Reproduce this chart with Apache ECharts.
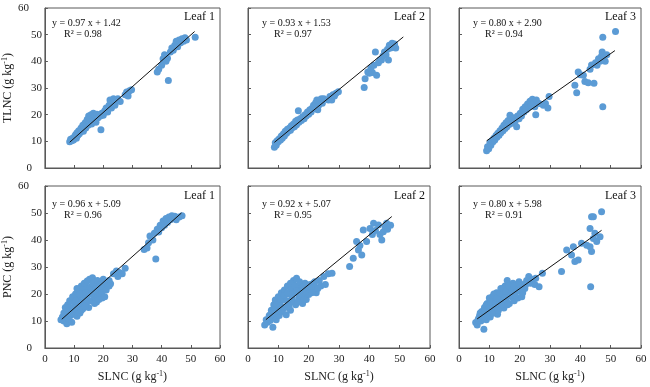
<!DOCTYPE html>
<html><head><meta charset="utf-8">
<script src="https://cdn.jsdelivr.net/npm/echarts/dist/echarts.min.js"></script>
<style>html,body{margin:0;padding:0;background:#fff}#c{width:650px;height:387px}</style>
</head><body><div id="c"></div><script>
// ---- data ----
const leafNames = ['Leaf 1', 'Leaf 2', 'Leaf 3'];
const rowNames = ['TLNC', 'PNC'];
const xName = 'SLNC';
const tickValues = [0, 10, 20, 30, 40, 50, 60];
const slopes = [0.97, 0.93, 0.80, 0.96, 0.92, 0.80];
const intercepts = [1.42, 1.53, 2.90, 5.09, 5.07, 5.98];
const r2 = [0.98, 0.97, 0.94, 0.96, 0.95, 0.91];
const trendRange = [[8.5, 51.3], [8.7, 51.2], [9.1, 51.4], [5.8, 46.8], [5.9, 47.4], [6.0, 47.0]];

const tlncLeaf1 = [[8.5,9.8],[8.8,10.8],[9.2,10.2],[9.5,11.2],[9.8,10.5],[10.2,11.8],[10.5,12.5],[10.8,11.2],[11,13.2],[11.3,12.3],[11.6,14],[11.8,12.8],[12.2,13.5],[12.4,15],[12.7,14.2],[13,16],[13.2,13.8],[13.5,15.5],[13.8,17],[14,15],[14.3,16.5],[14.5,18.2],[14.8,16],[15,19.5],[15.2,17.2],[15.5,18.5],[15.8,20],[16,16.5],[16.3,19],[16.6,20.5],[16.9,18],[17.2,19.5],[17.5,17.2],[17.8,20.2],[18.2,18.8],[19.2,14.3],[19,19.5],[19.5,20.5],[20,19.8],[20.5,21.5],[21,22.5],[21.5,21],[22,23.5],[22.3,25.5],[22.8,22.5],[23.2,24.5],[23.5,26],[24,23.5],[24.5,25.5],[25,26],[25.8,24.9],[27.5,27.5],[28,28.5],[28.5,27],[29,29],[29.7,29.3],[38.5,36],[39,37],[40,38.5],[40.5,41],[41,42.5],[41.5,40],[42,41.2],[42.3,32.8],[43,43.5],[43.5,45],[44,44.2],[44.5,46],[45,47.5],[45.5,45.5],[46,48],[46.5,47],[47,48.5],[47.5,47.5],[48,48.8],[48.5,48],[51.5,49]];
const tlncLeaf2 = [[8.7,7.8],[9,9.5],[9.3,8.5],[9.6,10.2],[10,9.8],[10.3,11],[10.7,10.5],[11,12],[11.3,11.2],[11.7,12.8],[12,12],[12.3,13.8],[12.7,13],[13,14.5],[13.3,13.8],[13.7,15],[14,14.2],[14.3,15.8],[14.7,15.2],[15,16.5],[15.3,15.5],[15.7,17.5],[16,16.2],[16.3,18],[16.6,21.5],[16.8,17.2],[17.2,18.5],[17.6,17.8],[18,19.2],[18.5,18.5],[18.8,20],[19.2,19.5],[19.6,21],[20,20.2],[20.4,21.8],[20.8,21],[21.2,22.5],[21.6,23.5],[22,22.2],[22.3,24.5],[22.7,25.5],[23,21.8],[23.3,23.5],[23.7,25.5],[24.2,26],[24.5,24.3],[25,26],[26.5,25.5],[27,26.8],[27.6,25.5],[28,27.5],[28.5,27],[29,28],[29.8,28.6],[38.3,30.2],[38.6,33.5],[39.5,36],[40,35.5],[40.5,37.5],[41,35.8],[41.5,38.5],[42,43.5],[42.4,34.8],[43,39.5],[43.5,40.5],[44,40.5],[44.5,42],[45,43.5],[45.5,42.5],[46,44.5],[46.3,40.5],[46.6,46],[47,45],[47.5,46.8],[48,45.5],[48.3,46.5],[48.7,45]];
const tlncLeaf3 = [[9.1,6.5],[9.4,8],[9.8,7.2],[10.2,9.5],[10.5,8.5],[10.8,10.2],[11.2,9.8],[11.5,11.2],[11.8,10.5],[12.2,12.2],[12.5,11.5],[12.8,13],[13.2,12.3],[13.5,14],[13.8,13.2],[14.2,15],[14.5,14],[14.8,16],[15.2,14.8],[15.5,17],[15.8,15.5],[16.2,17.8],[16.5,16.3],[16.8,19.8],[17.2,18],[17.6,16.8],[18,18.8],[18.5,17.5],[19,15.5],[19.3,19.5],[19.8,18.5],[20.2,20.5],[20.6,19.5],[21,22],[21.4,21],[21.8,23],[22.2,21.8],[22.6,24],[23,22.8],[23.4,25],[23.8,23.5],[24.2,25.8],[24.6,24],[25,23],[25.3,20],[25.5,25.5],[26.4,24.2],[27.8,23.5],[28.5,24.2],[29.3,22.5],[29.7,26.8],[38.2,31],[38.8,28.2],[39.3,36],[40,35],[41,34.8],[41.5,32.4],[42.6,32],[43.2,37],[43.7,38.6],[44.5,31.8],[45,39.5],[45.5,38.5],[46,41],[46.5,40],[47,42],[47.2,43.5],[47.4,49],[47.4,23],[47.8,41.5],[48.2,40],[48.7,42.5],[51.6,51.2]];
const pncLeaf1 = [[5.5,10.5],[6,11.5],[6.5,10],[7,12.5],[7.3,14],[7.5,9],[7.8,16],[8,11],[8.2,13],[8.5,15],[8.8,12],[9,17.5],[9.2,9.5],[9.5,14],[9.8,18.5],[10,12.5],[10.2,16],[10.5,20],[10.8,14.5],[11,11.8],[11.2,18],[11.5,21.5],[11.8,15.5],[12,13],[12.2,19.5],[12.5,23],[12.8,17],[13,14.5],[13.3,21],[13.6,18.5],[14,16],[14.3,22.5],[14.6,19.5],[15,15],[15.3,25.5],[15.6,20.5],[16,17.5],[16.3,26],[16.6,22],[17,19],[17.3,24],[17.7,17],[18,21],[18.4,23],[18.8,19.5],[19.2,21.5],[19.6,18.5],[20,25.5],[20.5,22.5],[21,24],[21.5,23],[22,25],[22.5,23.8],[23.5,27.5],[24.5,28.5],[25,26.5],[25.5,28],[26.5,27.5],[27.5,29.5],[34,36.5],[35,37],[35.5,39],[36,41.5],[37,40],[37.5,42.5],[38,33],[38.5,44],[39,43],[39.5,45.5],[40,44.5],[40.5,47],[41,45.5],[41.5,48],[42,46.5],[42.5,48.5],[43,47.5],[43.5,49],[44,48],[44.5,48.8],[45,47.5],[46,48.5],[47,49],
  [6.5,13],[7,15],[7.8,13.5],[8.5,17.5],[9,13],[9.5,19],[10,15],[10.5,17.5],[11,22],[11.5,16.5],[12,20],[12.5,14],[13,22.5],[13.5,24],[13.8,15.5],[14,20.5],[14.5,24.8],[15,17.5],[15.5,22.5],[16,20],[16.5,24],[17,16.5],[17.5,22],[18,25],[18.5,18],[19,23.5],[19.5,20.5],[20.5,19],[21,21.5],[22,23]];
const pncLeaf2 = [[5.5,8.5],[6,10.5],[6.5,9.5],[7,12],[7.3,10.2],[7.7,14],[8,11.5],[8.2,7.7],[8.5,16],[8.8,12.8],[9,17.8],[9.3,10.5],[9.6,14.5],[10,19],[10.3,12],[10.6,16.5],[11,20.5],[11.3,13.5],[11.6,18],[12,21.5],[12.3,15],[12.6,12.3],[13,23],[13.3,17],[13.6,20],[14,14],[14.3,22],[14.6,18.5],[15,25],[15.4,20.5],[15.7,16],[16,25.8],[16.4,22.5],[16.8,18.5],[17.2,21],[17.6,23.5],[18,16.5],[18.4,20],[18.8,24],[19.2,18],[19.6,22],[20,19.8],[20.5,23.5],[21,21.5],[21.5,24],[22,22.8],[22.5,20.5],[23.5,25],[24,23],[25,26.5],[25.5,23.5],[26.5,27.5],[27.7,27.7],[33.5,30.2],[34.7,33.2],[35.8,39.4],[36.4,36.3],[36.9,38],[37.5,34.4],[38,43.7],[39.1,39.4],[40.2,44.3],[41,42],[41.4,46.2],[42,43.5],[43,45.6],[43.5,42],[44.1,40],[44.6,43.1],[45.2,44.9],[45.7,46.2],[46,44],[47,45.5],
  [6.8,10.8],[7.5,12.5],[8.3,13.5],[8.8,15],[9.5,16],[10,13.5],[10.8,18],[11.5,15],[12,19.5],[12.8,17.5],[13,20.5],[13.5,15.5],[14,24],[14.5,20],[15,17],[15.5,23],[16,21],[16.5,17],[17,24.5],[17.5,19.5],[18,22.5],[18.5,18],[19,21],[20,22.5],[21,20.5],[22,24.5],[23,22]];
const pncLeaf3 = [[5.5,9.4],[6,8.5],[6.3,10.5],[6.8,12],[7.2,10],[7.5,13.5],[7.8,11],[8.2,6.9],[8.4,15],[8.7,12.5],[9,10.5],[9.3,16.5],[9.6,13.5],[10,18.5],[10.3,11.5],[10.6,15.5],[11,19],[11.3,13],[11.6,17],[12,14.5],[12.4,20.5],[12.7,12.5],[13,18],[13.4,15.5],[13.8,22],[14.1,17],[14.5,19.5],[14.8,14.8],[15.2,23],[15.5,18],[15.9,25],[16.2,20.5],[16.6,16.5],[17,22],[17.4,19],[17.8,24],[18.2,17.5],[18.6,21],[19,23],[19.4,18.5],[19.8,24.5],[20.2,21],[20.7,19],[21.2,23.5],[21.7,22],[22.3,25],[23,26.5],[23.6,24],[24.2,25.5],[25,23.5],[25.3,25.8],[26.4,22.7],[27.5,27.7],[33.8,28.3],[35.5,36.3],[37.1,34.4],[37.7,37.5],[38.2,32],[39.3,32.6],[40.4,38.8],[42.1,38.1],[43.2,37.5],[43.2,44.3],[43.4,22.7],[43.7,35.7],[43.7,48.6],[44.3,48.6],[44.3,40.6],[44.8,42.5],[45.4,39.4],[46.5,41.2],[47,50.5],
  [6.5,11],[7,13],[7.8,12.5],[8.5,14],[9,16],[9.5,12],[10,15],[10.5,17],[11,13],[11.5,20],[12,16.5],[12.5,18.5],[13,14],[13.5,20.5],[14,16],[14.5,22],[15,18.5],[15.5,21],[16,16],[16.5,23],[17,19.5],[17.5,21.5],[18,23],[18.5,19.5],[19.5,21.5],[20,23.5],[21,20.5],[22,23.5]];

const panelData = [tlncLeaf1, tlncLeaf2, tlncLeaf3, pncLeaf1, pncLeaf2, pncLeaf3];

// ---- layout ----
const FONT = "'Liberation Serif','Times New Roman',serif";
const lefts = [38, 248, 459];
const W = 182;
const tops = [8, 186];
const heights = [160, 162];
const eqOff = [16, 19], r2Off = [27, 30], leafOff = [10, 11];
const axisColor = '#595959';
const dotColor = '#5B9BD5';

const grids = [], xAxes = [], yAxes = [], series = [], graphics = [];
for (let r = 0; r < 2; r++) {
  for (let c = 0; c < 3; c++) {
    const i = r * 3 + c;
    grids.push({ left: lefts[c], top: tops[r], width: W, height: heights[r], show: true,
      borderColor: axisColor, borderWidth: 1, backgroundColor: '#fff' });
    xAxes.push({ gridIndex: i, type: 'value', min: tickValues[0], max: tickValues[tickValues.length - 1], interval: 10,
      axisLine: { show: true, onZero: false, lineStyle: { color: axisColor, width: 1 } },
      axisTick: { show: true, inside: true, length: 3, lineStyle: { color: axisColor } },
      splitLine: { show: false },
      axisLabel: { show: r === 1, margin: 6, color: '#222', fontFamily: FONT, fontSize: 11 },
      name: r === 1 ? '{a|' + xName + ' (g kg}{s|-1}{a|)}' : '',
      nameLocation: 'middle', nameGap: 22,
      nameTextStyle: { rich: {
        a: { fontFamily: FONT, fontSize: 12, color: '#222', lineHeight: 14 },
        s: { fontFamily: FONT, fontSize: 8, color: '#222', verticalAlign: 'top', lineHeight: 14 } } }
    });
    yAxes.push({ gridIndex: i, type: 'value', min: tickValues[0], max: tickValues[tickValues.length - 1], interval: 10,
      axisLine: { show: true, onZero: false, lineStyle: { color: axisColor, width: 1 } },
      axisTick: { show: true, inside: true, length: 3, lineStyle: { color: axisColor } },
      splitLine: { show: false },
      axisLabel: { show: c === 0, margin: 3, color: '#222', fontFamily: FONT, fontSize: 11,
        formatter: v => v === 60 ? '{p|60}' : (v === 0 ? '{q|0}' : String(v)),
        rich: { p: { fontFamily: FONT, fontSize: 11, color: '#222', padding: [0, 13, 0, 0] },
                q: { fontFamily: FONT, fontSize: 11, color: '#222', padding: [0, 10, 0, 0] } } },
      name: c === 0 ? '{a|' + rowNames[r] + ' (g kg}{s|-1}{a|)}' : '',
      nameLocation: 'middle', nameGap: 22, nameRotate: 90,
      nameTextStyle: { rich: {
        a: { fontFamily: FONT, fontSize: 12, color: '#222', lineHeight: 14 },
        s: { fontFamily: FONT, fontSize: 8, color: '#222', verticalAlign: 'top', lineHeight: 14 } } }
    });
    series.push({ type: 'scatter', xAxisIndex: i, yAxisIndex: i, data: panelData[i],
      symbolSize: 7, itemStyle: { color: dotColor, opacity: 1 }, z: 2, silent: true });
    const [x0, x1] = trendRange[i];
    series.push({ type: 'line', xAxisIndex: i, yAxisIndex: i, silent: true, z: 3,
      showSymbol: false, symbol: 'none',
      data: [[x0, slopes[i] * x0 + intercepts[i]], [x1, slopes[i] * x1 + intercepts[i]]],
      lineStyle: { color: '#111', width: 1 } });
    const cx = lefts[c] + 48;
    graphics.push({ type: 'text', left: cx - 34, top: tops[r] + eqOff[r] - 6,
      style: { text: 'y = ' + slopes[i].toFixed(2) + ' x + ' + intercepts[i].toFixed(2),
        font: '10px ' + FONT, fill: '#111' } });
    graphics.push({ type: 'text', left: cx - 22, top: tops[r] + r2Off[r] - 6,
      style: { text: 'R\u00B2 = ' + r2[i].toFixed(2), font: '10px ' + FONT, fill: '#111' } });
    graphics.push({ type: 'text', right: 650 - (lefts[c] + W) + 5, top: tops[r] + leafOff[r] - 7,
      style: { text: leafNames[c], font: '12px ' + FONT, fill: '#111' } });
  }
}

const chart = echarts.init(document.getElementById('c'), null, { renderer: 'canvas' });
chart.setOption({
  backgroundColor: '#fff',
  animation: false,
  grid: grids, xAxis: xAxes, yAxis: yAxes, series: series, graphic: graphics
});
</script></body></html>
